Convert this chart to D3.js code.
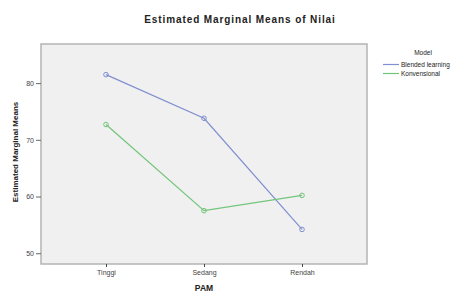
<!DOCTYPE html>
<html>
<head>
<meta charset="utf-8">
<script src="https://cdn.jsdelivr.net/npm/d3@7"></script>
<style>
  body { margin: 0; background: #fff; }
  text { font-family: "Liberation Sans", Arial, sans-serif; fill: #222; }
</style>
</head>
<body>
<svg id="canvas"></svg>
<script>
var categories = ['Tinggi', 'Sedang', 'Rendah'];
var seriesNames = ['Blended learning', 'Konvensional'];
var blendedValues = [81.5, 73.8, 54.2];
var konvensionalValues = [72.7, 57.5, 60.2];
var yTicks = [50, 60, 70, 80];
var colors = ['#7f8fd0', '#72c57a'];

var width = 463, height = 293;
var svg = d3.select('#canvas').attr('width', width).attr('height', height);

var frame = { left: 41, top: 44, right: 367, bottom: 264 };

var x = d3.scalePoint().domain(categories).range([106, 302]);
var y = d3.scaleLinear().domain([48.1, 86.9]).range([frame.bottom, frame.top]);

// plot background
svg.append('rect')
  .attr('x', frame.left).attr('y', frame.top)
  .attr('width', frame.right - frame.left).attr('height', frame.bottom - frame.top)
  .attr('fill', '#f0f0f0').attr('stroke', '#b4b4b4').attr('stroke-width', 1.5);

svg.append('text')
  .attr('x', 240).attr('y', 23)
  .attr('text-anchor', 'middle')
  .style('font-size', '10px').style('font-weight', 'bold').style('letter-spacing', '0.9px')
  .text('Estimated Marginal Means of Nilai');

// y axis
var yAxis = d3.axisLeft(y).tickValues(yTicks).tickSize(5).tickPadding(2);
var gy = svg.append('g').attr('transform', 'translate(' + frame.left + ',0)').call(yAxis);
gy.select('.domain').remove();
gy.selectAll('line').attr('stroke', '#666');
gy.selectAll('text').style('font-size', '7px').style('fill', '#444');

// x axis
var xAxis = d3.axisBottom(x).tickSize(3).tickPadding(3);
var gx = svg.append('g').attr('transform', 'translate(0,' + frame.bottom + ')').call(xAxis);
gx.select('.domain').remove();
gx.selectAll('line').attr('stroke', '#444');
gx.selectAll('text').style('font-size', '7px').style('fill', '#444');

svg.append('text')
  .attr('x', 204).attr('y', 291)
  .attr('text-anchor', 'middle')
  .style('font-size', '8.5px').style('font-weight', 'bold')
  .text('PAM');

svg.append('text')
  .attr('transform', 'translate(18,152) rotate(-90)')
  .attr('text-anchor', 'middle')
  .style('font-size', '8px').style('font-weight', 'bold')
  .text('Estimated Marginal Means');

var series = [blendedValues, konvensionalValues];
var line = d3.line().x(function (d, i) { return x(categories[i]); }).y(function (d) { return y(d); });

series.forEach(function (vals, s) {
  svg.append('path')
    .attr('d', line(vals))
    .attr('fill', 'none').attr('stroke', colors[s]).attr('stroke-width', 1.2);
  svg.selectAll('.pt' + s)
    .data(vals).enter()
    .append('circle')
    .attr('cx', function (d, i) { return x(categories[i]); })
    .attr('cy', function (d) { return y(d); })
    .attr('r', 2.3)
    .attr('fill', 'none').attr('stroke', colors[s]).attr('stroke-width', 1);
});

// legend
svg.append('text')
  .attr('x', 423).attr('y', 55)
  .attr('text-anchor', 'middle')
  .style('font-size', '6.5px')
  .text('Model');

seriesNames.forEach(function (name, i) {
  var ly = 64.5 + i * 9;
  svg.append('line')
    .attr('x1', 383).attr('x2', 399).attr('y1', ly).attr('y2', ly)
    .attr('stroke', colors[i]).attr('stroke-width', 1.2);
  svg.append('text')
    .attr('x', 401).attr('y', ly + 2.3)
    .style('font-size', '6.5px')
    .text(name);
});
</script>
</body>
</html>
